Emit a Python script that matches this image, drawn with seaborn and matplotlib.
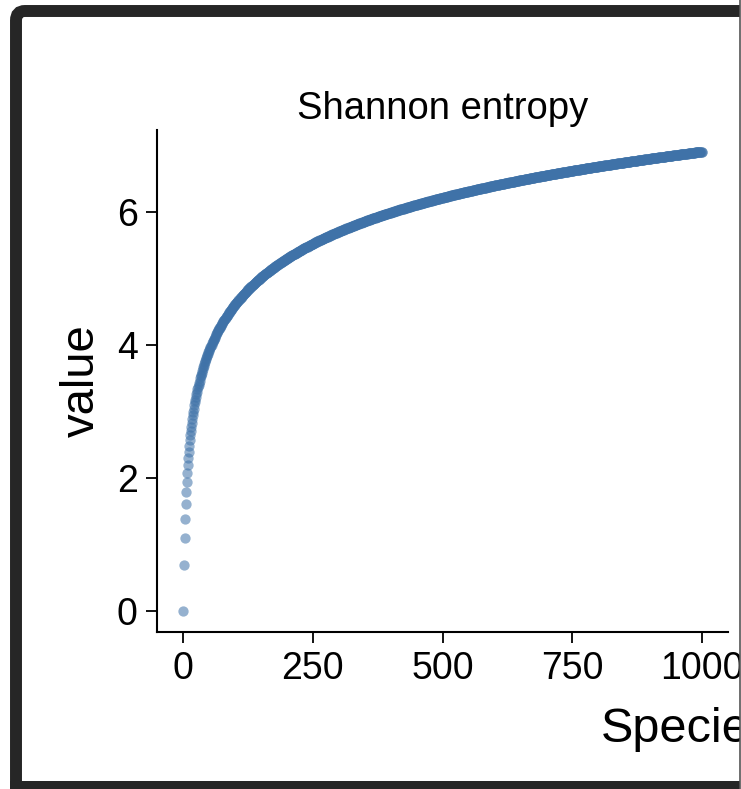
import numpy as np
import pandas as pd
import matplotlib
matplotlib.use('Agg')
import matplotlib.pyplot as plt
from matplotlib.patches import FancyBboxPatch
import seaborn as sns

# number of equally abundant species in the community
species = np.arange(1, 1001)
# Shannon entropy H = -sum(p ln p) of an even community with S species
entropy = np.array([-np.sum(np.full(s, 1.0 / s) * np.log(np.full(s, 1.0 / s))) for s in species])

title = 'Shannon entropy'
x_ticks = [0, 250, 500, 750, 1000]
y_ticks = [0, 2, 4, 6]

df = pd.DataFrame({'Species': species, 'value': entropy})

sns.set_style('ticks')
plt.rcParams['font.family'] = ['Liberation Sans', 'DejaVu Sans']

W, H = 741, 789
fig = plt.figure(figsize=(W / 100, H / 100), dpi=100)
ax = fig.add_axes([157 / W, 1 - 632 / H, (728 - 157) / W, (632 - 130) / H])

sns.scatterplot(data=df, x='Species', y='value', ax=ax, color='#3f72a8',
                alpha=0.55, s=55, linewidth=0, legend=False)

ax.set_xlim(-50, 1050)
ax.set_ylim(-0.316, 7.233)
ax.set_xticks(x_ticks)
ax.set_yticks(y_ticks)
ax.tick_params(axis='both', labelsize=27, length=8, width=1.3, color='black', labelcolor='black')
ax.tick_params(axis='x', pad=6)
ax.tick_params(axis='y', pad=6)
for side in ['top', 'right']:
    ax.spines[side].set_visible(False)
for side in ['left', 'bottom']:
    ax.spines[side].set_linewidth(1.5)
    ax.spines[side].set_color('black')

ax.set_title(title, fontsize=27.5, pad=8, color='black')

ax.set_ylabel('value', fontsize=34, color='black')
ax.yaxis.set_label_coords(-0.131, 0.5)
ax.yaxis.label.set_va('center')

ax.set_xlabel('Species', fontsize=35, color='black', ha='left', va='baseline')
ax.xaxis.set_label_coords((601 - 157) / 571, -110 / 502)

# dark frame around the panel (cut off on the right and bottom)
frame = FancyBboxPatch((16 / W, 1 - 820 / H), (770 - 16) / W, (820 - 11) / H,
                       boxstyle='round,pad=0,rounding_size=0.012',
                       transform=fig.transFigure, fill=False,
                       edgecolor='#262626', linewidth=8.6, clip_on=False)
fig.patches.append(frame)
fig.patches.append(plt.Rectangle((10 / W, 0), 1, 1 - 781 / H, transform=fig.transFigure,
                                 facecolor='#262626', edgecolor='none'))
fig.add_artist(plt.Line2D([739.5 / W, 739.5 / W], [0, 1], transform=fig.transFigure,
                          color='#555555', linewidth=1.2))
fig.patches.append(plt.Rectangle((740 / W, 0), 1 / W + 0.01, 1, transform=fig.transFigure,
                                 facecolor='white', edgecolor='none'))

fig.savefig('out.png', dpi=100)
